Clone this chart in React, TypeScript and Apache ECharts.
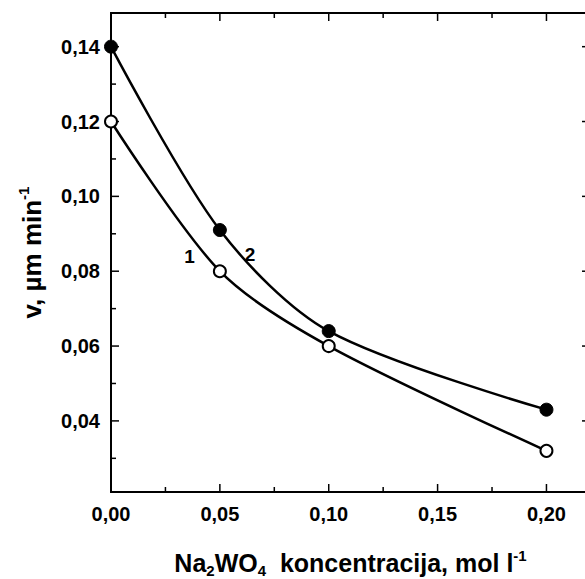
import React, { useEffect, useRef } from "react";
import * as echarts from "echarts";

const xMajor = [0, 0.05, 0.1, 0.15, 0.2];
const xMinor = [0.025, 0.075, 0.125, 0.175];
const yMajor = [0.04, 0.06, 0.08, 0.1, 0.12, 0.14];
const yMinor = [0.03, 0.05, 0.07, 0.09, 0.11, 0.13];

const concentration = [0, 0.05, 0.1, 0.2];
const series1 = [0.12, 0.08, 0.06, 0.032];
const series2 = [0.14, 0.091, 0.064, 0.043];

const curveLabels = [
  { name: "1", x: 0.0361, y: 0.0839 },
  { name: "2", x: 0.0638, y: 0.0844 },
];

const X_MIN = 0;
const X_MAX = 0.22;
const Y_MIN = 0.021;
const Y_MAX = 0.149;

const FONT = "Arial, 'Liberation Sans', sans-serif";
const fmt = (v: number) => v.toFixed(2).replace(".", ",");

export default function App() {
  const ref = useRef<HTMLDivElement>(null);
  useEffect(() => {
    if (!ref.current) return;
    const chart = echarts.init(ref.current, undefined, { renderer: "svg" });
    const black = "#000";
    const line = { show: true, lineStyle: { color: black, width: 2 } };
    const richX = {
      n: { fontSize: 25, fontWeight: "bold", fontFamily: FONT, color: black, lineHeight: 30 },
      sub: { fontSize: 15, fontWeight: "bold", fontFamily: FONT, color: black, lineHeight: 17, verticalAlign: "bottom" },
      sup: { fontSize: 15, fontWeight: "bold", fontFamily: FONT, color: black, lineHeight: 16, verticalAlign: "top" },
    };
    const richY = {
      n: { fontSize: 26, fontWeight: "bold", fontFamily: FONT, color: black, lineHeight: 32 },
      sup: { fontSize: 15, fontWeight: "bold", fontFamily: FONT, color: black, lineHeight: 16, verticalAlign: "top" },
    };
    // tick data: [value, kind (0 = x, 1 = y), length]
    const tickData = [
      ...xMajor.map((v) => [v, 0, 8]),
      ...xMinor.map((v) => [v, 0, 5]),
      ...yMajor.map((v) => [v, 1, 8]),
      ...yMinor.map((v) => [v, 1, 5]),
    ];
    const makeSeries = (name: string, vals: number[], filled: boolean, withLabels: boolean) => ({
      type: "line",
      name,
      data: concentration.map((c, i) => [c, vals[i]]),
      smooth: 0.3,
      symbol: "circle",
      symbolSize: filled ? 13 : 12,
      showSymbol: true,
      clip: false,
      lineStyle: { color: black, width: 2.5 },
      itemStyle: filled
        ? { color: black, borderColor: black, borderWidth: 1 }
        : { color: "#fff", borderColor: black, borderWidth: 2 },
      z: filled ? 4 : 3,
      markPoint: withLabels
        ? {
            symbol: "circle",
            symbolSize: 1,
            itemStyle: { color: "rgba(0,0,0,0)" },
            label: {
              show: true,
              position: "inside",
              formatter: (p: any) => p.name,
              fontSize: 19,
              fontWeight: "bold",
              fontFamily: FONT,
              color: black,
            },
            data: curveLabels.map((l) => ({ name: l.name, coord: [l.x, l.y] })),
          }
        : undefined,
    });
    chart.setOption({
      animation: false,
      backgroundColor: "#fff",
      grid: { left: 111, top: 13, right: -5, bottom: 87, containLabel: false, outerBoundsMode: "none" },
      xAxis: [
        {
          type: "value",
          min: X_MIN,
          max: X_MAX,
          position: "bottom",
          splitLine: { show: false },
          axisLine: line,
          axisTick: { show: false },
          axisLabel: {
            customValues: xMajor,
            formatter: fmt,
            fontSize: 20,
            fontWeight: "bold",
            fontFamily: FONT,
            color: black,
            margin: 12,
          },
          name: "{n|Na}{sub|2}{n|WO}{sub|4}{n|  koncentracija, mol l}{sup|-1}",
          nameLocation: "middle",
          nameGap: 56,
          nameTextStyle: { rich: richX },
        },
        {
          type: "value",
          min: X_MIN,
          max: X_MAX,
          position: "top",
          splitLine: { show: false },
          axisLine: line,
          axisTick: { show: false },
          axisLabel: { show: false },
        },
      ],
      yAxis: [
        {
          type: "value",
          min: Y_MIN,
          max: Y_MAX,
          position: "left",
          splitLine: { show: false },
          axisLine: line,
          axisTick: { show: false },
          axisLabel: {
            customValues: yMajor,
            formatter: fmt,
            fontSize: 20,
            fontWeight: "bold",
            fontFamily: FONT,
            color: black,
            margin: 11,
          },
          name: "{n|v, \u00b5m min}{sup|-1}",
          nameLocation: "middle",
          nameGap: 63,
          nameRotate: 90,
          nameTextStyle: { rich: richY },
        },
        {
          type: "value",
          min: Y_MIN,
          max: Y_MAX,
          position: "right",
          splitLine: { show: false },
          axisLine: line,
          axisTick: { show: false },
          axisLabel: { show: false },
        },
      ],
      series: [
        {
          type: "custom",
          name: "ticks",
          xAxisIndex: 0,
          yAxisIndex: 0,
          clip: false,
          silent: true,
          z: 1,
          data: tickData,
          renderItem: (_params: any, api: any) => {
            const v = api.value(0);
            const kind = api.value(1);
            const len = api.value(2);
            const style = { stroke: black, lineWidth: 1.5 };
            if (kind === 0) {
              const b = api.coord([v, Y_MIN]);
              const t = api.coord([v, Y_MAX]);
              return {
                type: "group",
                children: [
                  { type: "line", shape: { x1: b[0], y1: b[1], x2: b[0], y2: b[1] - len }, style },
                  { type: "line", shape: { x1: t[0], y1: t[1], x2: t[0], y2: t[1] + len }, style },
                ],
              };
            }
            const l = api.coord([X_MIN, v]);
            const r = api.coord([X_MAX, v]);
            return {
              type: "group",
              children: [
                { type: "line", shape: { x1: l[0], y1: l[1], x2: l[0] + len, y2: l[1] }, style },
                { type: "line", shape: { x1: r[0], y1: r[1], x2: r[0] - len, y2: r[1] }, style },
              ],
            };
          },
        },
        makeSeries("1", series1, false, true),
        makeSeries("2", series2, true, false),
      ],
    });
    return () => chart.dispose();
  }, []);
  return (
    <div
      ref={ref}
      style={{ position: "fixed", left: 0, top: 0, width: 585, height: 579, background: "#fff" }}
    />
  );
}
